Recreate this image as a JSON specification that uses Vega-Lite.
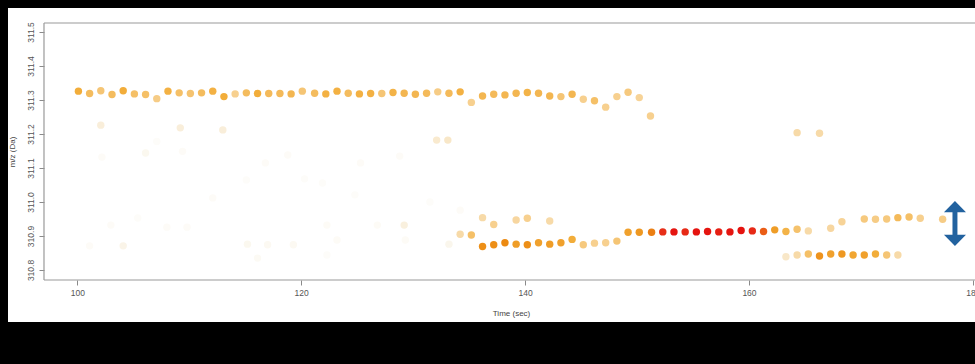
{
  "$schema": "https://vega.github.io/schema/vega-lite/v6.json",
  "width": 967,
  "height": 314,
  "autosize": {"type": "none"},
  "padding": {"left": 8, "top": 8, "right": 0, "bottom": 42},
  "background": "#000000",
  "config": {
    "view": {"fill": "#ffffff", "stroke": null},
    "font": "Liberation Sans"
  },
  "datasets": {
    "peaks": [
      {"t": 100.1, "mz": 311.326, "intensity": 0.55},
      {"t": 101.1, "mz": 311.319, "intensity": 0.47},
      {"t": 102.1, "mz": 311.327, "intensity": 0.42},
      {"t": 103.1, "mz": 311.316, "intensity": 0.47},
      {"t": 104.1, "mz": 311.327, "intensity": 0.55},
      {"t": 105.1, "mz": 311.318, "intensity": 0.45},
      {"t": 106.1, "mz": 311.316, "intensity": 0.45},
      {"t": 107.1, "mz": 311.304, "intensity": 0.38},
      {"t": 108.1, "mz": 311.326, "intensity": 0.53},
      {"t": 109.1, "mz": 311.321, "intensity": 0.45},
      {"t": 110.1, "mz": 311.319, "intensity": 0.43},
      {"t": 111.1, "mz": 311.321, "intensity": 0.47},
      {"t": 112.1, "mz": 311.326, "intensity": 0.53},
      {"t": 113.1, "mz": 311.31, "intensity": 0.55},
      {"t": 114.1, "mz": 311.318, "intensity": 0.36},
      {"t": 115.1, "mz": 311.321, "intensity": 0.47},
      {"t": 116.1, "mz": 311.319, "intensity": 0.55},
      {"t": 117.1, "mz": 311.319, "intensity": 0.48},
      {"t": 118.1, "mz": 311.319, "intensity": 0.48},
      {"t": 119.1, "mz": 311.318, "intensity": 0.5},
      {"t": 120.1, "mz": 311.326, "intensity": 0.42},
      {"t": 121.2, "mz": 311.32, "intensity": 0.47},
      {"t": 122.2, "mz": 311.318, "intensity": 0.53},
      {"t": 123.2, "mz": 311.326, "intensity": 0.53},
      {"t": 124.2, "mz": 311.32, "intensity": 0.47},
      {"t": 125.2, "mz": 311.318, "intensity": 0.53},
      {"t": 126.2, "mz": 311.319, "intensity": 0.53},
      {"t": 127.2, "mz": 311.319, "intensity": 0.42},
      {"t": 128.2, "mz": 311.322, "intensity": 0.52},
      {"t": 129.2, "mz": 311.32, "intensity": 0.5},
      {"t": 130.2, "mz": 311.317, "intensity": 0.5},
      {"t": 131.2, "mz": 311.32, "intensity": 0.48},
      {"t": 132.2, "mz": 311.324, "intensity": 0.38},
      {"t": 133.2, "mz": 311.32, "intensity": 0.48},
      {"t": 134.2, "mz": 311.324, "intensity": 0.53},
      {"t": 135.2, "mz": 311.293, "intensity": 0.36},
      {"t": 136.2, "mz": 311.312, "intensity": 0.5},
      {"t": 137.2, "mz": 311.317, "intensity": 0.48},
      {"t": 138.2, "mz": 311.315, "intensity": 0.5},
      {"t": 139.2, "mz": 311.32, "intensity": 0.5},
      {"t": 140.2, "mz": 311.322, "intensity": 0.52},
      {"t": 141.2, "mz": 311.32, "intensity": 0.5},
      {"t": 142.2, "mz": 311.312, "intensity": 0.5},
      {"t": 143.2, "mz": 311.31, "intensity": 0.42},
      {"t": 144.2, "mz": 311.317, "intensity": 0.5},
      {"t": 145.2, "mz": 311.302, "intensity": 0.36},
      {"t": 146.2, "mz": 311.298, "intensity": 0.45},
      {"t": 147.2, "mz": 311.279, "intensity": 0.36},
      {"t": 148.2, "mz": 311.31, "intensity": 0.36},
      {"t": 149.2, "mz": 311.323, "intensity": 0.4},
      {"t": 150.2, "mz": 311.307, "intensity": 0.34},
      {"t": 151.2, "mz": 311.253, "intensity": 0.36},

      {"t": 136.2, "mz": 310.869, "intensity": 0.68},
      {"t": 137.2, "mz": 310.874, "intensity": 0.68},
      {"t": 138.2, "mz": 310.88, "intensity": 0.7},
      {"t": 139.2, "mz": 310.876, "intensity": 0.62},
      {"t": 140.2, "mz": 310.874, "intensity": 0.68},
      {"t": 141.2, "mz": 310.88, "intensity": 0.6},
      {"t": 142.2, "mz": 310.876, "intensity": 0.62},
      {"t": 143.2, "mz": 310.88, "intensity": 0.6},
      {"t": 144.2, "mz": 310.89, "intensity": 0.55},
      {"t": 145.2, "mz": 310.874, "intensity": 0.4},
      {"t": 146.2, "mz": 310.879, "intensity": 0.36},
      {"t": 147.2, "mz": 310.88, "intensity": 0.36},
      {"t": 148.2, "mz": 310.885, "intensity": 0.42},

      {"t": 149.2, "mz": 310.911, "intensity": 0.6},
      {"t": 150.2, "mz": 310.911, "intensity": 0.64},
      {"t": 151.3, "mz": 310.911, "intensity": 0.72},
      {"t": 152.3, "mz": 310.912, "intensity": 0.88},
      {"t": 153.3, "mz": 310.912, "intensity": 0.98},
      {"t": 154.3, "mz": 310.912, "intensity": 0.9},
      {"t": 155.3, "mz": 310.912, "intensity": 0.99},
      {"t": 156.3, "mz": 310.913, "intensity": 0.98},
      {"t": 157.3, "mz": 310.912, "intensity": 0.94},
      {"t": 158.3, "mz": 310.912, "intensity": 0.98},
      {"t": 159.3, "mz": 310.916, "intensity": 0.99},
      {"t": 160.3, "mz": 310.915, "intensity": 0.9},
      {"t": 161.3, "mz": 310.913, "intensity": 0.78},
      {"t": 162.3, "mz": 310.918, "intensity": 0.62},
      {"t": 163.3, "mz": 310.913, "intensity": 0.52},
      {"t": 164.3, "mz": 310.92, "intensity": 0.44},
      {"t": 165.3, "mz": 310.915, "intensity": 0.3},

      {"t": 129.2, "mz": 310.932, "intensity": 0.16},
      {"t": 133.2, "mz": 310.876, "intensity": 0.12},
      {"t": 134.2, "mz": 310.905, "intensity": 0.3},
      {"t": 135.2, "mz": 310.903, "intensity": 0.45},
      {"t": 136.2, "mz": 310.954, "intensity": 0.3},
      {"t": 137.2, "mz": 310.934, "intensity": 0.36},
      {"t": 139.2, "mz": 310.947, "intensity": 0.32},
      {"t": 140.2, "mz": 310.952, "intensity": 0.36},
      {"t": 142.2, "mz": 310.944, "intensity": 0.3},

      {"t": 163.3, "mz": 310.839, "intensity": 0.22},
      {"t": 164.3, "mz": 310.844, "intensity": 0.3},
      {"t": 165.3, "mz": 310.847, "intensity": 0.45},
      {"t": 166.3, "mz": 310.841, "intensity": 0.66},
      {"t": 167.3, "mz": 310.847, "intensity": 0.6},
      {"t": 168.3, "mz": 310.847, "intensity": 0.64},
      {"t": 169.3, "mz": 310.844, "intensity": 0.58},
      {"t": 170.3, "mz": 310.844, "intensity": 0.6},
      {"t": 171.3, "mz": 310.847, "intensity": 0.55},
      {"t": 172.3, "mz": 310.844, "intensity": 0.42},
      {"t": 173.3, "mz": 310.844, "intensity": 0.3},

      {"t": 167.3, "mz": 310.923, "intensity": 0.32},
      {"t": 168.3, "mz": 310.942, "intensity": 0.34},
      {"t": 170.3, "mz": 310.95, "intensity": 0.4},
      {"t": 171.3, "mz": 310.949, "intensity": 0.38},
      {"t": 172.3, "mz": 310.95, "intensity": 0.4},
      {"t": 173.3, "mz": 310.954, "intensity": 0.48},
      {"t": 174.3, "mz": 310.956, "intensity": 0.45},
      {"t": 175.3, "mz": 310.952, "intensity": 0.36},
      {"t": 177.3, "mz": 310.949, "intensity": 0.38},

      {"t": 164.3, "mz": 311.204, "intensity": 0.3},
      {"t": 166.3, "mz": 311.202, "intensity": 0.3},

      {"t": 132.1, "mz": 311.182, "intensity": 0.2},
      {"t": 133.1, "mz": 311.182, "intensity": 0.22},
      {"t": 102.1, "mz": 311.226, "intensity": 0.17},
      {"t": 109.2, "mz": 311.218, "intensity": 0.17},
      {"t": 113.0, "mz": 311.212, "intensity": 0.17},

      {"t": 106.1, "mz": 311.144, "intensity": 0.1},
      {"t": 102.2, "mz": 311.132, "intensity": 0.05},
      {"t": 107.1, "mz": 311.178, "intensity": 0.04},
      {"t": 109.4, "mz": 311.149, "intensity": 0.05},
      {"t": 116.8, "mz": 311.115, "intensity": 0.05},
      {"t": 118.8, "mz": 311.138, "intensity": 0.05},
      {"t": 120.3, "mz": 311.068, "intensity": 0.04},
      {"t": 125.3, "mz": 311.115, "intensity": 0.05},
      {"t": 128.8, "mz": 311.135, "intensity": 0.05},
      {"t": 115.1, "mz": 311.065, "intensity": 0.04},
      {"t": 121.9, "mz": 311.056, "intensity": 0.04},
      {"t": 124.8, "mz": 311.021, "intensity": 0.04},
      {"t": 112.1, "mz": 311.012, "intensity": 0.05},
      {"t": 131.5, "mz": 311.0, "intensity": 0.04},
      {"t": 134.2, "mz": 310.976, "intensity": 0.05},

      {"t": 101.1, "mz": 310.871, "intensity": 0.05},
      {"t": 103.0, "mz": 310.932, "intensity": 0.05},
      {"t": 104.1, "mz": 310.871, "intensity": 0.13},
      {"t": 105.4, "mz": 310.953, "intensity": 0.04},
      {"t": 108.0, "mz": 310.926, "intensity": 0.05},
      {"t": 109.8, "mz": 310.926, "intensity": 0.05},
      {"t": 115.2, "mz": 310.876, "intensity": 0.1},
      {"t": 116.1, "mz": 310.835, "intensity": 0.07},
      {"t": 117.0, "mz": 310.874, "intensity": 0.08},
      {"t": 119.3, "mz": 310.874, "intensity": 0.08},
      {"t": 122.3, "mz": 310.932, "intensity": 0.06},
      {"t": 123.2, "mz": 310.888, "intensity": 0.06},
      {"t": 122.3, "mz": 310.844, "intensity": 0.04},
      {"t": 126.8, "mz": 310.932, "intensity": 0.06},
      {"t": 129.3, "mz": 310.888, "intensity": 0.06}
    ]
  },
  "layer": [
    {
      "data": {"values": [{}]},
      "mark": {"type": "rule", "color": "#9a9a9a", "strokeWidth": 1.2},
      "encoding": {
        "x": {"datum": 97.025, "type": "quantitative"},
        "y": {"datum": 310.7706, "type": "quantitative"},
        "y2": {"datum": 311.5265}
      }
    },
    {
      "data": {"values": [{}]},
      "mark": {"type": "rule", "color": "#9a9a9a", "strokeWidth": 1.2},
      "encoding": {
        "x": {"datum": 97.025, "type": "quantitative"},
        "x2": {"datum": 180.19},
        "y": {"datum": 311.5265, "type": "quantitative"}
      }
    },
    {
      "data": {"values": [{}]},
      "mark": {"type": "rule", "color": "#9a9a9a", "strokeWidth": 1.2},
      "encoding": {
        "x": {"datum": 97.025, "type": "quantitative"},
        "x2": {"datum": 180.19},
        "y": {"datum": 310.7706, "type": "quantitative"}
      }
    },
    {
      "data": {"name": "peaks"},
      "mark": {"type": "circle", "size": 55, "opacity": 1},
      "encoding": {
        "x": {
          "field": "t",
          "type": "quantitative",
          "scale": {"domain": [93.81, 180.19], "nice": false, "zero": false},
          "axis": {
            "values": [100, 120, 140, 160, 180],
            "offset": -42,
            "domain": false,
            "grid": false,
            "tickColor": "#8a8a8a",
            "tickSize": 5,
            "labelColor": "#555555",
            "labelFontSize": 8.5,
            "labelFlush": false,
            "labelPadding": 3,
            "title": "Time (sec)",
            "titleFontSize": 8,
            "titleFontWeight": "normal",
            "titleColor": "#444444",
            "titleX": 503,
            "titleY": 33,
            "titleBaseline": "middle"
          }
        },
        "y": {
          "field": "mz",
          "type": "quantitative",
          "scale": {"domain": [310.647, 311.5706], "nice": false, "zero": false},
          "axis": {
            "values": [310.8, 310.9, 311.0, 311.1, 311.2, 311.3, 311.4, 311.5],
            "format": ".1f",
            "offset": -36,
            "domain": false,
            "grid": false,
            "tickColor": "#8a8a8a",
            "tickSize": 5,
            "labelColor": "#555555",
            "labelFontSize": 8.5,
            "labelAngle": -90,
            "labelAlign": "center",
            "labelBaseline": "bottom",
            "labelPadding": 4,
            "labelFlush": false,
            "title": "m/z (Da)",
            "titleFontSize": 8,
            "titleFontWeight": "normal",
            "titleColor": "#444444",
            "titleAngle": -90,
            "titleX": -32,
            "titleY": 143.5,
            "titleAlign": "center",
            "titleBaseline": "middle"
          }
        },
        "color": {
          "field": "intensity",
          "type": "quantitative",
          "scale": {
            "domain": [0, 0.12, 0.25, 0.4, 0.55, 0.7, 0.85, 1],
            "range": ["#ffffff", "#faf6ec", "#f8e2bd", "#f6c97e", "#f2ad3a", "#ec8a12", "#e8361a", "#e5100e"],
            "interpolate": "rgb"
          },
          "legend": null
        },
        "order": {"field": "intensity", "type": "quantitative"}
      }
    },
    {
      "data": {"values": [{}]},
      "mark": {
        "type": "point",
        "shape": "M0,-1L0.49,-0.5L0.11,-0.5L0.11,0.5L0.49,0.5L0,1L-0.49,0.5L-0.11,0.5L-0.11,-0.5L-0.49,-0.5Z",
        "filled": true,
        "color": "#22629f",
        "size": 2025,
        "opacity": 1,
        "strokeWidth": 0
      },
      "encoding": {
        "x": {"datum": 178.4, "type": "quantitative"},
        "y": {"datum": 310.9368, "type": "quantitative"}
      }
    }
  ]
}
